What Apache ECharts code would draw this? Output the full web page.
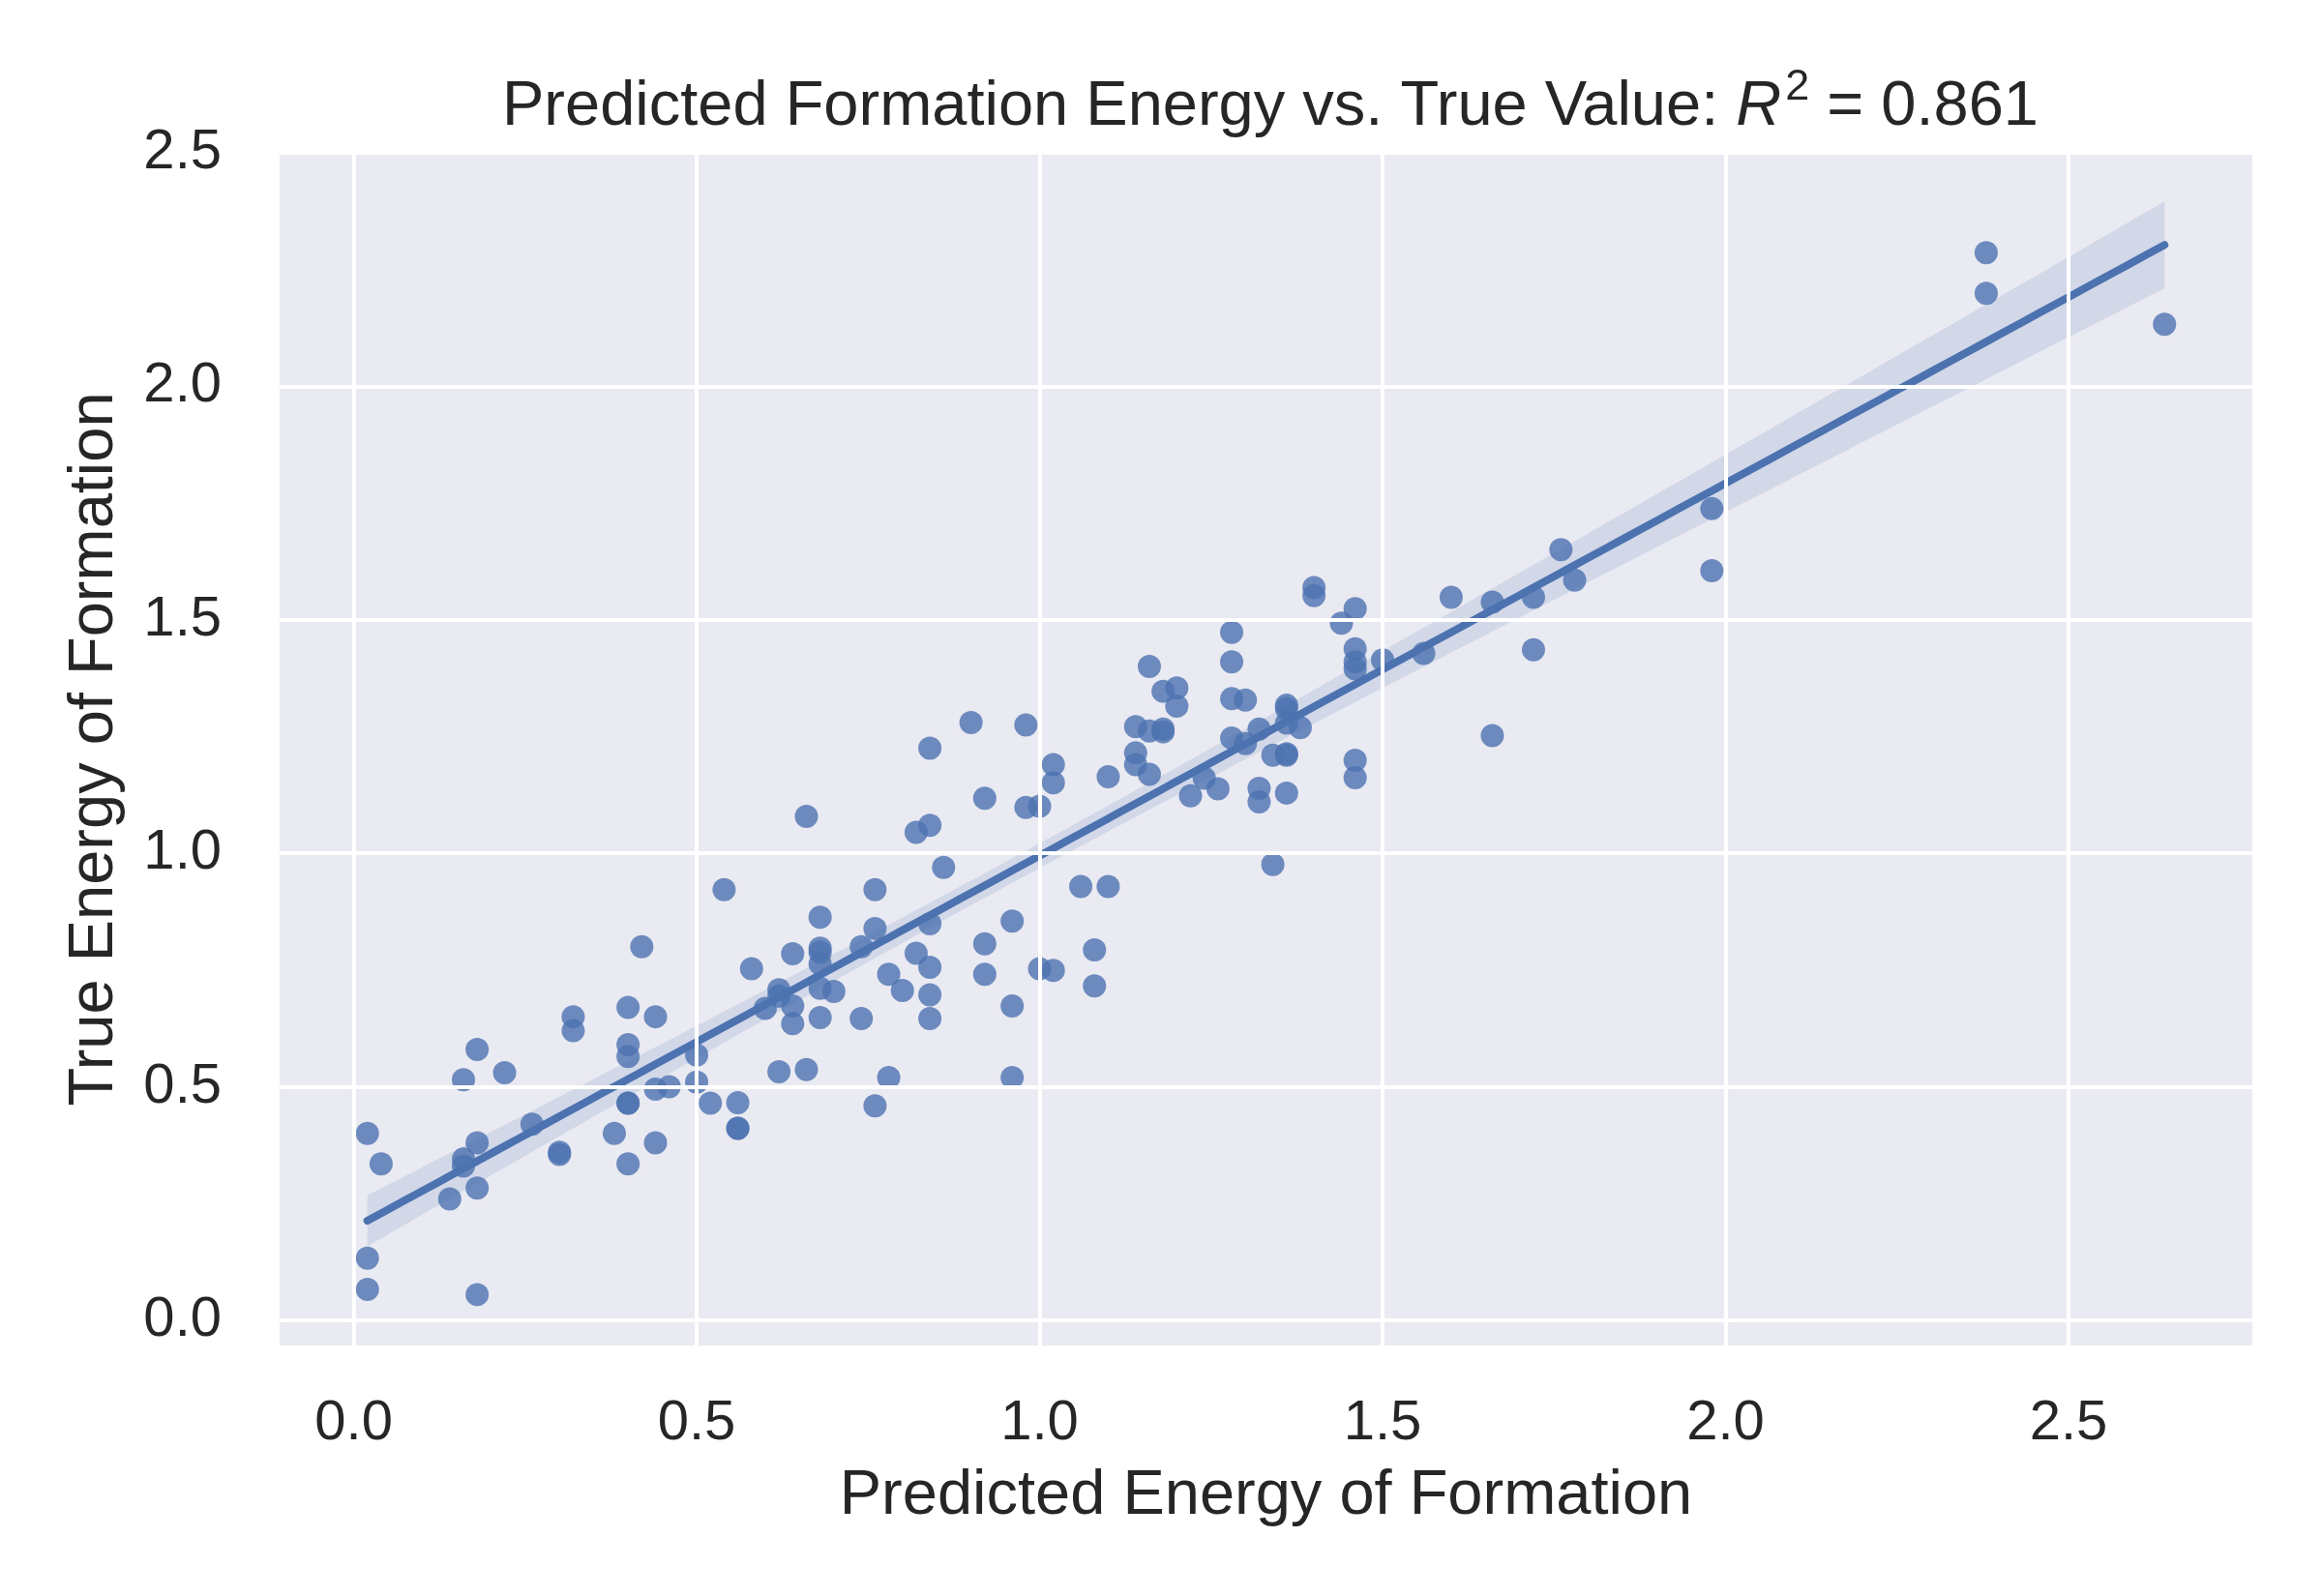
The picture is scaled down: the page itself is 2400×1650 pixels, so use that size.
<!DOCTYPE html>
<html>
<head>
<meta charset="utf-8">
<script src="https://cdn.jsdelivr.net/npm/echarts@6/dist/echarts.min.js"></script>
<style>
html,body{margin:0;padding:0;background:#fff;}
#chart{width:2400px;height:1650px;}
</style>
</head>
<body>
<div id="chart"></div>
<script>
// Predicted energy of formation (x) and true energy of formation (y)
const predicted = [
  0.02, 0.04, 0.02, 0.02, 0.14, 0.16, 0.16, 0.16, 0.18, 0.18,
  0.18, 0.18, 0.22, 0.26, 0.30, 0.30, 0.32, 0.32, 0.38, 0.40,
  0.40, 0.40, 0.40, 0.40, 0.40, 0.42, 0.44, 0.44, 0.44, 0.46,
  0.50, 0.50, 0.52, 0.54, 0.56, 0.56, 0.56, 0.58, 0.60, 0.62,
  0.62, 0.62, 0.64, 0.64, 0.64, 0.66, 0.66, 0.68, 0.68, 0.68,
  0.68, 0.68, 0.68, 0.70, 0.74, 0.74, 0.76, 0.76, 0.76, 0.78,
  0.78, 0.80, 0.82, 0.82, 0.84, 0.84, 0.84, 0.84, 0.84, 0.84,
  0.86, 0.90, 0.92, 0.92, 0.92, 0.96, 0.96, 0.96, 0.98, 0.98,
  1.00, 1.00, 1.02, 1.02, 1.02, 1.06, 1.08, 1.08, 1.10, 1.10,
  1.14, 1.14, 1.14, 1.16, 1.16, 1.16, 1.18, 1.18, 1.18, 1.20,
  1.20, 1.22, 1.24, 1.26, 1.28, 1.28, 1.28, 1.28, 1.30, 1.30,
  1.32, 1.32, 1.32, 1.34, 1.34, 1.36, 1.36, 1.36, 1.36, 1.36,
  1.36, 1.38, 1.40, 1.40, 1.44, 1.46, 1.46, 1.46, 1.46, 1.46,
  1.46, 1.50, 1.56, 1.60, 1.66, 1.66, 1.72, 1.72, 1.76, 1.78,
  1.98, 1.98, 2.38, 2.38, 2.64
];
const trueValues = [
  0.40, 0.335, 0.133, 0.066, 0.26, 0.345, 0.33, 0.515, 0.58, 0.38,
  0.283, 0.055, 0.53, 0.42, 0.36, 0.355, 0.65, 0.62, 0.40, 0.67,
  0.59, 0.565, 0.465, 0.465, 0.335, 0.80, 0.65, 0.495, 0.38, 0.50,
  0.568, 0.51, 0.465, 0.922, 0.466, 0.411, 0.411, 0.753, 0.668, 0.708,
  0.694, 0.532, 0.785, 0.673, 0.635, 1.079, 0.537, 0.863, 0.797, 0.788,
  0.763, 0.711, 0.648, 0.704, 0.800, 0.646, 0.922, 0.839, 0.459, 0.741,
  0.520, 0.706, 1.045, 0.786, 1.06, 1.225, 0.849, 0.756, 0.697, 0.646,
  0.970, 1.28, 1.118, 0.806, 0.741, 0.855, 0.673, 0.520, 1.275, 1.098,
  1.101, 0.753, 1.151, 1.19, 0.749, 0.929, 0.793, 0.716, 1.164, 0.929,
  1.271, 1.215, 1.190, 1.400, 1.262, 1.169, 1.347, 1.266, 1.260, 1.354,
  1.315, 1.123, 1.161, 1.138, 1.473, 1.410, 1.331, 1.247, 1.328, 1.235,
  1.266, 1.139, 1.110, 1.210, 0.976, 1.317, 1.31, 1.279, 1.213, 1.21,
  1.129, 1.269, 1.569, 1.552, 1.493, 1.524, 1.438, 1.410, 1.395, 1.199,
  1.162, 1.414, 1.428, 1.548, 1.538, 1.252, 1.548, 1.436, 1.650, 1.585,
  1.738, 1.605, 2.286, 2.199, 2.133
];
const xTicks = [0.0, 0.5, 1.0, 1.5, 2.0, 2.5];
const yTicks = [0.0, 0.5, 1.0, 1.5, 2.0, 2.5];
const titleR2 = '0.861';

// ---- regression fit and 95% confidence band (computed from the data) ----
const n = predicted.length;
const mx = predicted.reduce((a, b) => a + b, 0) / n;
const my = trueValues.reduce((a, b) => a + b, 0) / n;
let sxx = 0, sxy = 0;
for (let i = 0; i < n; i++) {
  sxx += (predicted[i] - mx) ** 2;
  sxy += (predicted[i] - mx) * (trueValues[i] - my);
}
const slope = sxy / sxx;
const intercept = my - slope * mx;
let sse = 0;
for (let i = 0; i < n; i++) {
  const r = trueValues[i] - (intercept + slope * predicted[i]);
  sse += r * r;
}
const se = Math.sqrt(sse / (n - 2));
const tval = 1.977;
const xLo = Math.min(...predicted), xHi = Math.max(...predicted);
const fitLine = [], bandUpper = [], bandLower = [];
for (let k = 0; k <= 100; k++) {
  const x = xLo + (xHi - xLo) * k / 100;
  const yh = intercept + slope * x;
  const hw = tval * se * Math.sqrt(1 / n + (x - mx) ** 2 / sxx);
  fitLine.push([x, yh]);
  bandUpper.push([x, yh + hw]);
  bandLower.push([x, yh - hw]);
}

const points = predicted.map((x, i) => [x, trueValues[i]]);
const FONT = 'Liberation Sans, Arial, sans-serif';
const TXT = '#262626';
const BLUE = '#4C72B0';

const chart = echarts.init(document.getElementById('chart'), null, {renderer: 'canvas'});
chart.setOption({
  animation: false,
  backgroundColor: '#ffffff',
  title: {
    left: 1308, top: 63, textAlign: 'center',
    text: '{n|Predicted Formation Energy vs. True Value: }{i|R}{s|2}{n| = ' + titleR2 + '}',
    textStyle: {
      fontWeight: 'normal',
      rich: {
        n: {fontSize: 65, fontFamily: FONT, color: TXT, fontWeight: 'normal', lineHeight: 86},
        i: {fontSize: 65, fontFamily: FONT, color: TXT, fontWeight: 'normal', fontStyle: 'italic', lineHeight: 86},
        s: {fontSize: 45, fontFamily: FONT, color: TXT, fontWeight: 'normal', verticalAlign: 'top', lineHeight: 45, padding: [0, 0, 0, 4]}
      }
    }
  },
  grid: {
    left: 289, right: 72, top: 158, bottom: 259,
    show: true, backgroundColor: '#EAEAF2', borderWidth: 0
  },
  xAxis: {
    type: 'value', min: -0.108, max: 2.768,
    name: 'Predicted Energy of Formation', nameLocation: 'middle', nameGap: 124,
    nameTextStyle: {fontSize: 65, fontFamily: FONT, color: TXT},
    axisLine: {show: false}, axisTick: {show: false}, splitLine: {show: false},
    axisLabel: {customValues: xTicks, formatter: v => Number(v).toFixed(1),
      fontSize: 58, fontFamily: FONT, color: TXT, margin: 52}
  },
  yAxis: {
    type: 'value', min: -0.054, max: 2.5,
    name: 'True Energy of Formation', nameLocation: 'middle', nameGap: 158,
    nameTextStyle: {fontSize: 65, fontFamily: FONT, color: TXT},
    axisLine: {show: false}, axisTick: {show: false}, splitLine: {show: false},
    axisLabel: {customValues: yTicks, formatter: v => Number(v).toFixed(1),
      fontSize: 58, fontFamily: FONT, color: TXT, margin: 60}
  },
  series: [
    {
      type: 'line', data: [], z: 1, silent: true,
      markLine: {
        silent: true, symbol: 'none', label: {show: false},
        lineStyle: {color: '#ffffff', width: 4, type: 'solid', opacity: 1},
        emphasis: {disabled: true},
        data: xTicks.map(v => ({xAxis: v})).concat(yTicks.map(v => ({yAxis: v})))
      }
    },
    {
      type: 'scatter', data: points, z: 2, symbol: 'circle', symbolSize: 24,
      itemStyle: {color: BLUE, opacity: 0.8}
    },
    {
      type: 'custom', z: 3, silent: true, data: [0],
      renderItem: function (params, api) {
        const pts = bandUpper.map(p => api.coord(p))
          .concat(bandLower.slice().reverse().map(p => api.coord(p)));
        return {type: 'polygon', shape: {points: pts},
          style: {fill: BLUE, opacity: 0.15}};
      }
    },
    {
      type: 'line', data: fitLine, z: 4, showSymbol: false, symbol: 'none',
      lineStyle: {color: BLUE, width: 8, cap: 'round'}
    }
  ]
});
</script>
</body>
</html>
